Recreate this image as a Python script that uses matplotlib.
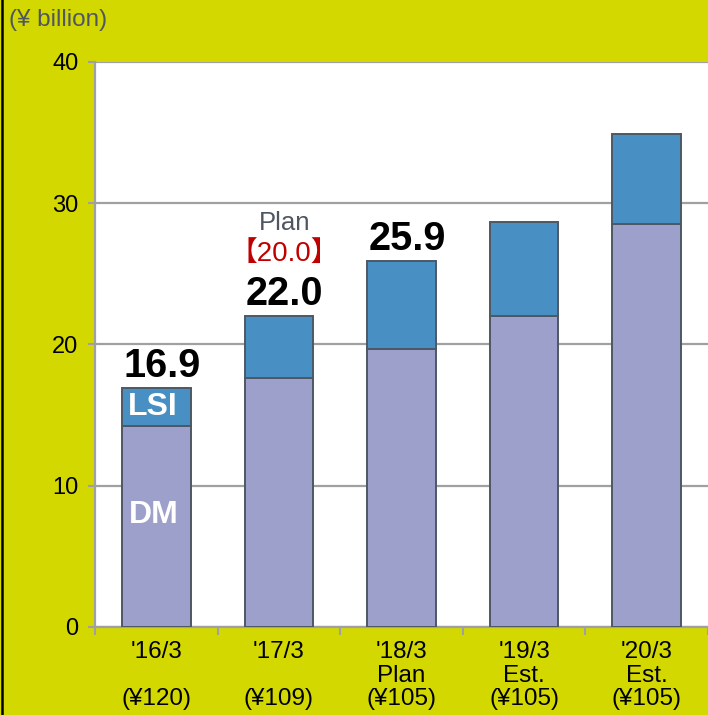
import matplotlib.pyplot as plt
from matplotlib.lines import Line2D
import numpy as np

plt.rcParams['font.family'] = ['Liberation Sans', 'DejaVu Sans']

# sales by fiscal year, in billions of yen
periods = ["'16/3", "'17/3", "'18/3", "'19/3", "'20/3"]
period_notes = ["", "", "Plan", "Est.", "Est."]
fx_rates = ["(¥120)", "(¥109)", "(¥105)", "(¥105)", "(¥105)"]
dm_sales = [14.2, 17.6, 19.7, 22.0, 28.5]
total_sales = [16.9, 22.0, 25.9, 28.7, 34.9]
lsi_sales = [t - d for t, d in zip(total_sales, dm_sales)]
value_labels = ["16.9", "22.0", "25.9", None, None]
plan_value = "【20.0】"

bg = '#d3d800'
dm_color = '#9ea0cc'
lsi_color = '#4890c4'
edge = '#4d5864'
grid_gray = '#a0a0a0'

fig = plt.figure(figsize=(7.08, 7.15), dpi=100, facecolor=bg)
ax = fig.add_axes([0.1342, 0.1231, 0.8658, 0.7902])
ax.set_facecolor('white')

x = np.arange(len(periods))
w = 0.56
ax.bar(x, dm_sales, width=w, color=dm_color, edgecolor=edge, linewidth=1.4, zorder=3)
ax.bar(x, lsi_sales, width=w, bottom=dm_sales, color=lsi_color, edgecolor=edge,
       linewidth=1.4, zorder=3)

ax.set_ylim(0, 40)
ax.set_xlim(-0.5, 4.47)
ax.set_yticks([0, 10, 20, 30, 40])
ax.tick_params(axis='y', labelsize=17, colors=grid_gray, labelcolor='black',
               length=5, width=1.5, pad=7)
ax.yaxis.grid(True, color=grid_gray, linewidth=1.6, zorder=0)

# category labels at bar centres, tick marks between categories
labels = [f"{p}\n{n}\n{r}" for p, n, r in zip(periods, period_notes, fx_rates)]
ax.set_xticks(x)
ax.set_xticklabels(labels, fontsize=17.5, linespacing=1.1)
ax.tick_params(axis='x', which='major', length=0, pad=10)
ax.set_xticks(np.arange(-0.5, 5.0, 1.0), minor=True)
ax.tick_params(axis='x', which='minor', length=6, width=1.5, color=grid_gray, direction='out')

for s in ['top', 'right']:
    ax.spines[s].set_visible(False)
for s in ['left', 'bottom']:
    ax.spines[s].set_color(grid_gray)
    ax.spines[s].set_linewidth(1.6)

for xi, tot, lab in zip(x, total_sales, value_labels):
    if lab is None:
        continue
    ax.annotate(lab, (xi, tot), xytext=(4, 8), textcoords='offset points',
                ha='center', va='baseline', fontsize=28.5, fontweight='bold', zorder=5)

ax.annotate(plan_value, (x[1], total_sales[1]), xytext=(4, 40), textcoords='offset points',
            ha='center', va='baseline', fontsize=20, color='#c00000',
            family=['Liberation Sans', 'Noto Sans CJK JP'])
ax.annotate("Plan", (x[1], total_sales[1]), xytext=(4, 62), textcoords='offset points',
            ha='center', va='baseline', fontsize=18.5, color='#4f5660')

ax.text(x[0] - 0.03, dm_sales[0] + lsi_sales[0] / 2, "LSI", ha='center', va='center',
        fontsize=23, fontweight='bold', color='white', zorder=5)
ax.text(x[0] - 0.02, 7.9, "DM", ha='center', va='center',
        fontsize=23, fontweight='bold', color='white', zorder=5)

fig.text(0.013, 0.972, "(¥ billion)", ha='left', va='center', fontsize=17.5, color='#4f5660')
fig.add_artist(Line2D([0.0035, 0.0035], [0, 1], color='black', linewidth=1.8,
                      transform=fig.transFigure))

fig.savefig('out.png', dpi=100, facecolor=bg)
